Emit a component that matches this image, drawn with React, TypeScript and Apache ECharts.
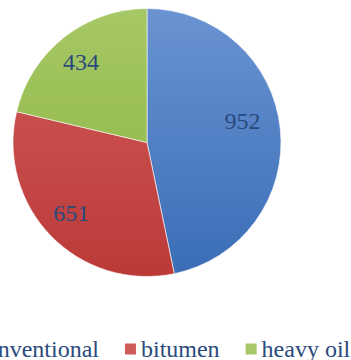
import React, { useEffect, useRef } from "react";
import * as echarts from "echarts";

const categories = ["conventional", "bitumen", "heavy oil"];
const values = [952, 651, 434];
const topColors = ["#6a93d2", "#d05c5a", "#a6c866"];
const bottomColors = ["#3a6db6", "#bb3a38", "#89b23c"];
const labelNudges = [[-7, -11], [-2, -1], [-2, 0]];

export default function App() {
  const ref = useRef<HTMLDivElement>(null);
  useEffect(() => {
    if (!ref.current) return;
    const chart = echarts.init(ref.current, undefined, { renderer: "svg" });
    const data = categories.map((name, i) => ({
      name,
      value: values[i],
      itemStyle: {
        color: {
          type: "linear",
          x: 0,
          y: 9,
          x2: 0,
          y2: 276,
          global: true,
          colorStops: [
            { offset: 0, color: topColors[i] },
            { offset: 1, color: bottomColors[i] },
          ],
        },
      },
    }));
    chart.setOption({
      animation: false,
      legend: {
        data: categories,
        left: -48,
        top: 332,
        width: 480,
        orient: "horizontal",
        itemWidth: 13,
        itemHeight: 13,
        itemGap: 24,
        icon: "rect",
        textStyle: {
          fontFamily: "Liberation Serif",
          fontSize: 24,
          color: "#2a4a7c",
          padding: [0, 0, 0, -1],
        },
      },
      series: [
        {
          type: "pie",
          center: [147, 142.5],
          radius: [0, 134],
          startAngle: 90,
          clockwise: true,
          data,
          label: { show: false },
          labelLine: { show: false },
          itemStyle: { borderColor: "#ffffff", borderWidth: 0.6 },
          emphasis: { disabled: true },
        },
        {
          type: "pie",
          center: [147, 142.5],
          radius: [66, 134],
          startAngle: 90,
          clockwise: true,
          silent: true,
          data: categories.map((name, i) => ({
            name,
            value: values[i],
            itemStyle: { color: "rgba(0,0,0,0)" },
            label: { offset: labelNudges[i] },
          })),
          label: {
            show: true,
            position: "inside",
            formatter: "{c}",
            fontFamily: "Liberation Serif",
            fontSize: 24,
            color: "#2a4a7c",
          },
          labelLine: { show: false },
          emphasis: { disabled: true },
        },
      ],
    });
    return () => chart.dispose();
  }, []);
  return <div ref={ref} style={{ width: 351, height: 360, position: "absolute", left: 0, top: 0 }} />;
}
